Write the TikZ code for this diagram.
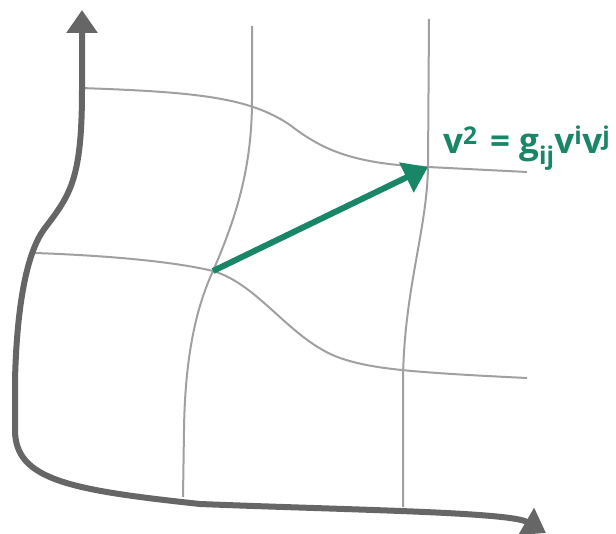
\documentclass[tikz,border=0pt]{standalone}
\usepackage{fontspec}
\setmainfont{Open Sans}
\usepackage{tikz}
\usetikzlibrary{positioning,arrows.meta,calc}
\definecolor{axisgray}{RGB}{102,102,102}
\definecolor{gridgray}{RGB}{160,160,160}
\definecolor{vecgreen}{RGB}{26,134,104}

\begin{document}
\begin{tikzpicture}[x=1pt,y=-1pt,
  axis/.style={
    draw=axisgray,
    line width=6pt,
    {Triangle[length=23pt,width=30pt]}-{Triangle[length=23pt,width=30pt]}
  },
  gridline/.style={
    draw=gridgray,
    line width=2pt
  },
  vector/.style={
    draw=vecgreen,
    line width=6pt,
    -{Triangle[length=24pt,width=32pt]}
  },
  formula/.style={
    text=vecgreen,
    font=\fontsize{35}{40}\selectfont\bfseries,
    inner sep=0pt,
    anchor=base west
  }
]
  \useasboundingbox (0,0) rectangle (616,534);
  \coordinate (p) at (213,271);
  \coordinate (q) at (428,167);
  \draw[gridline] (252,26) -- (252,100) .. controls (252,170) and (235,220) .. (p)
    .. controls (195,310) and (185,360) .. (184,430) -- (183,497);
  \draw[gridline] (429,19) -- (q) .. controls (427,230) and (404,290) .. (403,380) -- (403,507);
  \draw[gridline] (80,88) .. controls (200,92) and (250,98) .. (290,125)
    .. controls (320,148) and (350,164) .. (q) -- (527,172);
  \draw[gridline] (35,253) .. controls (120,256) and (180,263) .. (p)
    .. controls (260,285) and (290,340) .. (340,358) .. controls (370,368) and (400,372) .. (527,378);
  \draw[axis] (82,10) -- (82,90) .. controls (82,180) and (70,195) .. (45,228)
    .. controls (28,250) and (17,300) .. (15,380) -- (15,430)
    .. controls (15,480) and (70,490) .. (200,504) .. controls (350,510) and (510,512) .. (546,533);
  \draw[vector] (p) -- (q);
  \node[formula] (metric) at (443,154) {v\textsuperscript{2}\hspace{0.1em} = g\textsubscript{ij}v\textsuperscript{i}v\textsuperscript{j}};
\end{tikzpicture}
\end{document}
